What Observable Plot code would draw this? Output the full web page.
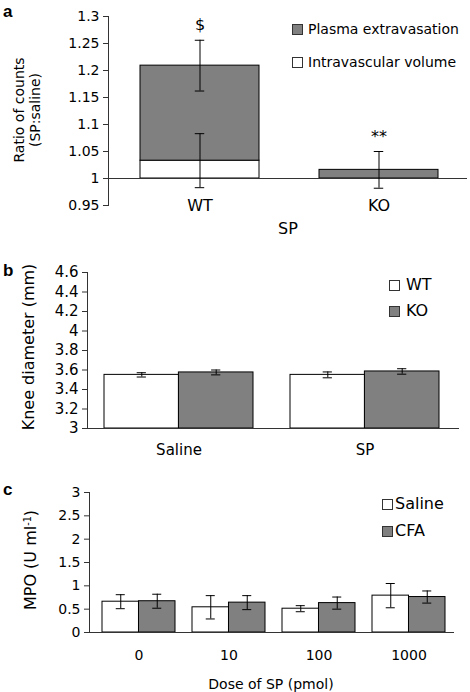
<!DOCTYPE html>
<html><head><meta charset="utf-8">
<script src="https://cdn.jsdelivr.net/npm/d3@7"></script>
<script src="https://cdn.jsdelivr.net/npm/@observablehq/plot@0.6"></script>
<style>
body{margin:0;background:#fff;}
#root{position:relative;width:470px;height:692px;font-family:"DejaVu Sans",sans-serif;color:#000;overflow:hidden;background:#fff}
.c{position:absolute;transform:translate(-50%,-50%);white-space:nowrap;line-height:1}
.letter{position:absolute;font-family:"Liberation Sans",Arial,sans-serif;font-weight:bold;font-size:17px;line-height:1}
.leg{position:absolute;display:flex;align-items:center;height:20px;white-space:nowrap;line-height:1}
.sw{display:inline-block;width:9px;height:9px;border:1px solid #333;flex:none}
.yt{position:absolute;transform:translate(-50%,-50%) rotate(-90deg);text-align:center;white-space:nowrap;line-height:1.15}
</style></head><body><div id="root"></div>
<script>
// ---------- Panel a data ----------
const condA = ["WT", "KO"];
const intravascularA = [1.033, 1.0];
const totalA = [1.209, 1.016];
const intraErrA = [0.05, 0];
const totalErrA = [0.047, 0.034];
const sigA = ["$", "**"];
const yTicksA = [0.95, 1, 1.05, 1.1, 1.15, 1.2, 1.25, 1.3];
const legendA = ["Plasma extravasation", "Intravascular volume"];

// ---------- Panel b data ----------
const groupsB = ["Saline", "SP"];
const seriesB = ["WT", "KO"];
const wtB = [3.55, 3.55];
const wtErrB = [0.022, 0.03];
const koB = [3.575, 3.585];
const koErrB = [0.025, 0.028];
const yTicksB = [3, 3.2, 3.4, 3.6, 3.8, 4, 4.2, 4.4, 4.6];

// ---------- Panel c data ----------
const dosesC = ["0", "10", "100", "1000"];
const seriesC = ["Saline", "CFA"];
const salineC = [0.66, 0.54, 0.51, 0.79];
const salineErrC = [0.15, 0.25, 0.065, 0.26];
const cfaC = [0.67, 0.64, 0.63, 0.76];
const cfaErrC = [0.15, 0.15, 0.13, 0.13];
const yTicksC = [0, 0.5, 1, 1.5, 2, 2.5, 3];

const GRAY = "#808080";
const AXIS = "#333";
const W = 470;
const root = document.getElementById("root");

function bandwidth(n, r0, r1, pi, po) {
  const step = (r1 - r0) / (n - pi + 2 * po);
  return step * (1 - pi);
}
function place(svg, top) {
  svg.style.position = "absolute";
  svg.style.left = "0px";
  svg.style.top = top + "px";
  root.appendChild(svg);
}
const baseStyle = (fs) => ({fontFamily: "DejaVu Sans", fontSize: fs + "px", color: AXIS, background: "transparent", overflow: "visible"});

// ---------- Panel a ----------
{
  const L = {ml: 108, mr: 3, mt: 16, mb: 35, h: 240, pi: 0.334, po: 0.167};
  const bw = bandwidth(condA.length, L.ml, W - L.mr, L.pi, L.po);
  const cap = 10, ci = (bw - cap) / 2;
  const data = condA.map((c, i) => ({c, intra: intravascularA[i], total: totalA[i], ie: intraErrA[i], te: totalErrA[i], sig: sigA[i]}));
  const withIntra = data.filter(d => d.ie > 0);
  const svg = Plot.plot({
    width: W, height: L.h, marginLeft: L.ml, marginRight: L.mr, marginTop: L.mt, marginBottom: L.mb,
    style: baseStyle(14),
    x: {type: "band", domain: condA, paddingInner: L.pi, paddingOuter: L.po, align: 0.52, axis: null},
    y: {domain: [yTicksA[0], yTicksA[yTicksA.length - 1]], axis: null},
    marks: [
      Plot.axisY({ticks: yTicksA, tickFormat: d => String(d), tickSize: 5, tickPadding: 4, label: null, fontSize: 14, fill: "black"}),
      Plot.frame({anchor: "left", stroke: AXIS}),
      Plot.barY(withIntra, {x: "c", y1: 1, y2: "intra", fill: "white", stroke: "black"}),
      Plot.barY(data, {x: "c", y1: "intra", y2: "total", fill: GRAY, stroke: "black"}),
      Plot.ruleY([1], {stroke: AXIS}),
      Plot.ruleX(withIntra, {x: "c", y1: d => d.intra - d.ie, y2: d => d.intra + d.ie, stroke: "black"}),
      Plot.tickY(withIntra, {x: "c", y: d => d.intra - d.ie, insetLeft: ci, insetRight: ci, stroke: "black"}),
      Plot.tickY(withIntra, {x: "c", y: d => d.intra + d.ie, insetLeft: ci, insetRight: ci, stroke: "black"}),
      Plot.ruleX(data, {x: "c", y1: d => d.total - d.te, y2: d => d.total + d.te, stroke: "black"}),
      Plot.tickY(data, {x: "c", y: d => d.total - d.te, insetLeft: ci, insetRight: ci, stroke: "black"}),
      Plot.tickY(data, {x: "c", y: d => d.total + d.te, insetLeft: ci, insetRight: ci, stroke: "black"}),
      Plot.text(data, {x: "c", y: d => d.total + d.te, text: "sig", dy: -10, lineAnchor: "bottom", fontSize: 16, fill: "black"}),
      Plot.text(data, {x: "c", text: "c", frameAnchor: "bottom", dy: 0, lineAnchor: "middle", fontSize: 16, fill: "black"})
    ]
  });
  place(svg, 0);
}

// ---------- Panel b ----------
{
  const L = {top: 250, ml: 87, mr: 11, mt: 22, mb: 35, h: 213, pi: 0.2, po: 0.1};
  const bw = bandwidth(groupsB.length, L.ml, W - L.mr, L.pi, L.po);
  const half = bw / 2, q = bw / 4, cap = 9;
  const data = groupsB.map((g, i) => ({g, wt: wtB[i], wtE: wtErrB[i], ko: koB[i], koE: koErrB[i]}));
  const y0 = yTicksB[0];
  const capsL = {insetLeft: q - cap / 2, insetRight: 3 * q - cap / 2, stroke: "black"};
  const capsR = {insetLeft: 3 * q - cap / 2, insetRight: q - cap / 2, stroke: "black"};
  const svg = Plot.plot({
    width: W, height: L.h, marginLeft: L.ml, marginRight: L.mr, marginTop: L.mt, marginBottom: L.mb,
    style: baseStyle(15),
    x: {type: "band", domain: groupsB, paddingInner: L.pi, paddingOuter: L.po, align: 0.46, axis: null},
    y: {domain: [y0, yTicksB[yTicksB.length - 1]], axis: null},
    marks: [
      Plot.axisY({ticks: yTicksB, tickFormat: d => String(d), tickSize: 5, tickPadding: 4, label: null, fontSize: 15, fill: "black"}),
      Plot.frame({anchor: "left", stroke: AXIS}),
      Plot.barY(data, {x: "g", y1: y0, y2: "wt", fill: "white", stroke: "black", insetRight: half}),
      Plot.barY(data, {x: "g", y1: y0, y2: "ko", fill: GRAY, stroke: "black", insetLeft: half}),
      Plot.ruleY([y0], {stroke: AXIS}),
      Plot.ruleX(data, {x: "g", y1: d => d.wt - d.wtE, y2: d => d.wt + d.wtE, dx: -q, stroke: "black"}),
      Plot.tickY(data, {x: "g", y: d => d.wt - d.wtE, ...capsL}),
      Plot.tickY(data, {x: "g", y: d => d.wt + d.wtE, ...capsL}),
      Plot.ruleX(data, {x: "g", y1: d => d.ko - d.koE, y2: d => d.ko + d.koE, dx: q, stroke: "black"}),
      Plot.tickY(data, {x: "g", y: d => d.ko - d.koE, ...capsR}),
      Plot.tickY(data, {x: "g", y: d => d.ko + d.koE, ...capsR}),
      Plot.text(data, {x: "g", text: "g", frameAnchor: "bottom", dy: 22, lineAnchor: "middle", fontSize: 15, fill: "black"})
    ]
  });
  place(svg, L.top);
}

// ---------- Panel c ----------
{
  const L = {top: 470, ml: 89, mr: 16, mt: 22, mb: 60, h: 222, pi: 0.192, po: 0.117};
  const bw = bandwidth(dosesC.length, L.ml, W - L.mr, L.pi, L.po);
  const half = bw / 2, q = bw / 4, cap = 9;
  const data = dosesC.map((d, i) => ({d, s: salineC[i], sE: salineErrC[i], f: cfaC[i], fE: cfaErrC[i]}));
  const y0 = yTicksC[0];
  const capsL = {insetLeft: q - cap / 2, insetRight: 3 * q - cap / 2, stroke: "black"};
  const capsR = {insetLeft: 3 * q - cap / 2, insetRight: q - cap / 2, stroke: "black"};
  const svg = Plot.plot({
    width: W, height: L.h, marginLeft: L.ml, marginRight: L.mr, marginTop: L.mt, marginBottom: L.mb,
    style: baseStyle(14),
    x: {type: "band", domain: dosesC, paddingInner: L.pi, paddingOuter: L.po, align: 0.6, axis: null},
    y: {domain: [y0, yTicksC[yTicksC.length - 1]], axis: null},
    marks: [
      Plot.axisY({ticks: yTicksC, tickFormat: d => String(d), tickSize: 5, tickPadding: 4, label: null, fontSize: 14, fill: "black"}),
      Plot.frame({anchor: "left", stroke: AXIS}),
      Plot.barY(data, {x: "d", y1: y0, y2: "s", fill: "white", stroke: "black", insetRight: half}),
      Plot.barY(data, {x: "d", y1: y0, y2: "f", fill: GRAY, stroke: "black", insetLeft: half}),
      Plot.ruleY([y0], {stroke: AXIS}),
      Plot.ruleX(data, {x: "d", y1: d => d.s - d.sE, y2: d => d.s + d.sE, dx: -q, stroke: "black"}),
      Plot.tickY(data, {x: "d", y: d => d.s - d.sE, ...capsL}),
      Plot.tickY(data, {x: "d", y: d => d.s + d.sE, ...capsL}),
      Plot.ruleX(data, {x: "d", y1: d => d.f - d.fE, y2: d => d.f + d.fE, dx: q, stroke: "black"}),
      Plot.tickY(data, {x: "d", y: d => d.f - d.fE, ...capsR}),
      Plot.tickY(data, {x: "d", y: d => d.f + d.fE, ...capsR}),
      Plot.text(data, {x: "d", text: "d", frameAnchor: "bottom", dy: 23, lineAnchor: "middle", fontSize: 14, fill: "black"})
    ]
  });
  place(svg, L.top);
}

// ---------- HTML text: letters, titles, legends ----------
function addHTML(cls, html, css) {
  const el = document.createElement("div");
  el.className = cls;
  el.innerHTML = html;
  Object.assign(el.style, css);
  root.appendChild(el);
  return el;
}
addHTML("letter", "a", {left: "3px", top: "3px"});
addHTML("letter", "b", {left: "3px", top: "262px"});
addHTML("letter", "c", {left: "3px", top: "481px"});

addHTML("yt", "Ratio of counts<br>(SP:saline)", {left: "27px", top: "110px", fontSize: "14px"});
addHTML("yt", "Knee diameter (mm)", {left: "29px", top: "347px", fontSize: "16px"});
addHTML("yt", "MPO (U ml<sup style=\"font-size:0.6em;vertical-align:0.55em\">-1</sup>)", {left: "31px", top: "560px", fontSize: "16px"});

addHTML("c", "SP", {left: "288px", top: "229px", fontSize: "16px"});
addHTML("c", "Dose of SP (pmol)", {left: "271px", top: "684px", fontSize: "14px"});

function legendRow(left, cy, fill, label, fs, gap) {
  addHTML("leg", `<span class="sw" style="background:${fill}"></span><span style="margin-left:${gap}px;font-size:${fs}px">${label}</span>`,
    {left: left + "px", top: (cy - 10) + "px"});
}
legendRow(292, 29, GRAY, legendA[0], 14, 5);
legendRow(292, 62, "white", legendA[1], 14, 5);
legendRow(389, 285, "white", seriesB[0], 16, 6);
legendRow(389, 311, GRAY, seriesB[1], 16, 6);
legendRow(382, 504, "white", seriesC[0], 16, 2);
legendRow(382, 531, GRAY, seriesC[1], 16, 2);
</script>
</body></html>
